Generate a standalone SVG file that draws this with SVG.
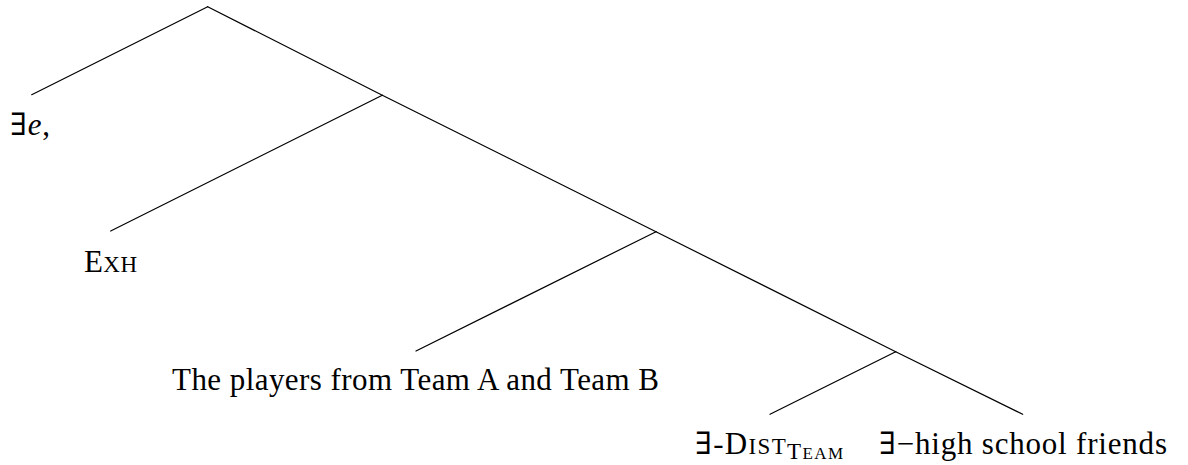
<svg xmlns="http://www.w3.org/2000/svg" width="1188" height="465" viewBox="0 0 1188 465">
<style>
.e{stroke:#000;stroke-width:1.2;fill:none;stroke-linecap:round}
.t{font-family:"Liberation Serif","DejaVu Serif",serif;font-size:31px;fill:#000}
.sc{font-size:23px}
.sub{font-size:23px}
.subsc{font-size:17px}
</style>
<rect width="1188" height="465" fill="#fff"/>
<g id="edges">
<line class="e" x1="207.7" y1="6.7" x2="31.7" y2="94.7"/>
<line class="e" x1="207.7" y1="6.7" x2="382.3" y2="95.3"/>
<line class="e" x1="382.3" y1="95.3" x2="110.7" y2="231"/>
<line class="e" x1="382.3" y1="95.3" x2="656" y2="231.7"/>
<line class="e" x1="656" y1="231.7" x2="416" y2="351"/>
<line class="e" x1="656" y1="231.7" x2="895.7" y2="351.7"/>
<line class="e" x1="895.7" y1="351.7" x2="770" y2="414.3"/>
<line class="e" x1="895.7" y1="351.7" x2="1022.7" y2="414.3"/>
</g>
<g id="n-exists-e"><text class="t" x="10" y="135" textLength="40" lengthAdjust="spacing">∃<tspan font-style="italic">e</tspan>,</text></g>
<g id="n-exh"><text class="t" x="84" y="272" textLength="53" lengthAdjust="spacing">E<tspan class="sc">XH</tspan></text></g>
<g id="n-players"><text class="t" x="172" y="390" textLength="487" lengthAdjust="spacing">The players from Team A and Team B</text></g>
<g id="n-dist"><text class="t" x="695" y="454" textLength="148" lengthAdjust="spacing">∃-D<tspan class="sc">IST</tspan><tspan class="sub" dy="5">T<tspan class="subsc">EAM</tspan></tspan></text></g>
<g id="n-friends"><text class="t" x="879" y="454" textLength="288" lengthAdjust="spacing">∃−high school friends</text></g>
</svg>
